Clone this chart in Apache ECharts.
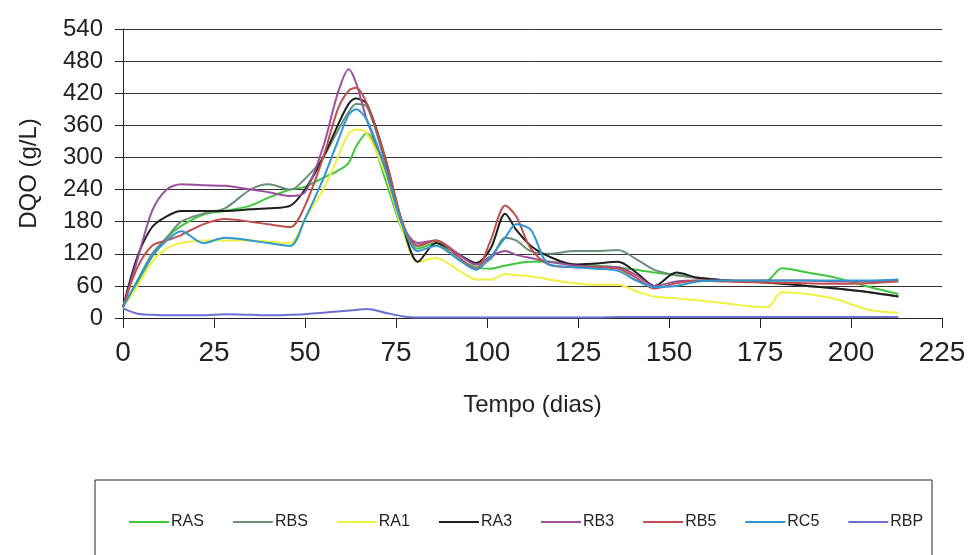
<!DOCTYPE html>
<html>
<head>
<meta charset="utf-8">
<script src="https://cdn.jsdelivr.net/npm/echarts@6/dist/echarts.min.js"></script>
<style>
  html, body { margin: 0; padding: 0; background: #fff; }
  #chart { width: 971px; height: 555px; }
</style>
</head>
<body>
<div id="chart"></div>
<script>
// dias de amostragem
const days = [0, 4, 8, 12, 16, 22, 28, 35, 40, 46, 50, 55, 59, 62, 64, 67, 72, 77, 81, 86, 92, 97, 101, 105, 108, 112, 117, 124, 130, 136, 141, 146, 152, 158, 166, 172, 177, 181, 188, 196, 205, 213];

// DQO (g/L) por reator
const ras = [20, 65, 115, 150, 172, 193, 200, 210, 225, 240, 245, 262, 275, 290, 320, 345, 260, 160, 130, 140, 110, 95, 92, 98, 102, 105, 105, 100, 98, 95, 90, 85, 80, 75, 70, 68, 70, 93, 85, 75, 58, 45];
const rbs = [20, 70, 120, 150, 180, 195, 205, 240, 250, 240, 260, 300, 350, 385, 400, 395, 290, 170, 135, 145, 120, 100, 110, 150, 145, 125, 120, 125, 125, 127, 110, 90, 80, 75, 70, 68, 67, 65, 60, 55, 48, 40];
const ra1 = [20, 60, 105, 130, 140, 145, 145, 145, 143, 140, 185, 240, 300, 345, 352, 345, 270, 160, 105, 112, 90, 72, 72, 82, 80, 78, 72, 65, 62, 62, 50, 40, 37, 33, 27, 22, 20, 48, 45, 35, 15, 10];
const ra3 = [20, 115, 170, 190, 200, 200, 200, 203, 205, 210, 240, 300, 360, 400, 410, 400, 300, 170, 105, 140, 120, 103, 130, 195, 165, 135, 115, 100, 102, 105, 85, 60, 85, 75, 70, 68, 66, 64, 60, 55, 48, 40];
const rb3 = [20, 110, 200, 240, 250, 248, 247, 240, 235, 228, 235, 320, 420, 465, 440, 370, 280, 170, 140, 145, 120, 100, 115, 125, 118, 112, 105, 98, 96, 95, 80, 60, 68, 70, 70, 70, 70, 70, 70, 68, 68, 70];
const rb5 = [20, 95, 135, 145, 155, 175, 185, 180, 175, 170, 210, 300, 390, 425, 430, 400, 300, 175, 135, 145, 115, 92, 145, 210, 190, 130, 100, 95, 95, 92, 75, 55, 65, 70, 68, 67, 66, 66, 65, 64, 65, 68];
const rc5 = [20, 70, 115, 145, 162, 140, 150, 145, 140, 135, 185, 260, 330, 380, 390, 370, 280, 170, 125, 135, 110, 90, 115, 150, 175, 165, 100, 95, 92, 88, 70, 58, 60, 68, 70, 70, 70, 70, 70, 70, 70, 72];
const rbp = [18, 8, 6, 5, 5, 5, 7, 6, 5, 6, 7, 10, 12, 14, 15, 17, 10, 3, 1, 1, 1, 1, 1, 1, 1, 1, 1, 1, 1, 2, 2, 2, 2, 2, 2, 2, 2, 2, 2, 2, 2, 2];

const names = ['RAS', 'RBS', 'RA1', 'RA3', 'RB3', 'RB5', 'RC5', 'RBP'];
const values = [ras, rbs, ra1, ra3, rb3, rb5, rc5, rbp];
const colors = ['#3ec83e', '#6b8f78', '#f0f040', '#1e1e1e', '#9b4f9f', '#c0504d', '#2e97d0', '#6d6fd0'];

const font = '"Liberation Sans", Arial, sans-serif';

const chart = echarts.init(document.getElementById('chart'));

const option = {
    animation: false,
    backgroundColor: '#fff',
    color: colors,
    grid: { left: 123, right: 29, top: 29, bottom: 237 },
    legend: {
        data: names.map(n => ({ name: n, icon: 'rect' })),
        left: 124,
        top: 509,
        itemWidth: 40,
        itemHeight: 2,
        itemGap: 29,
        textStyle: { fontFamily: font, fontSize: 16, color: '#222', padding: [0, 0, 0, -3] }
    },
    graphic: [{
        type: 'rect',
        shape: { x: 95, y: 480, width: 837, height: 100 },
        style: { fill: 'none', stroke: '#222', lineWidth: 1 },
        silent: true
    }],
    xAxis: {
        type: 'value',
        min: 0,
        max: 225,
        interval: 25,
        name: 'Tempo (dias)',
        nameLocation: 'middle',
        nameGap: 75,
        nameTextStyle: { fontFamily: font, fontSize: 24, color: '#222' },
        axisLine: { lineStyle: { color: '#222', width: 1 } },
        axisTick: { show: true, length: 10, lineStyle: { color: '#222' } },
        axisLabel: { fontFamily: font, fontSize: 28, color: '#222', margin: 21 },
        splitLine: { show: false }
    },
    yAxis: {
        type: 'value',
        min: 0,
        max: 540,
        interval: 60,
        name: 'DQO (g/L)',
        nameLocation: 'middle',
        nameGap: 82,
        nameTextStyle: { fontFamily: font, fontSize: 24, color: '#222' },
        axisLine: { show: true, lineStyle: { color: '#222', width: 1 } },
        axisTick: { show: true, length: 8, lineStyle: { color: '#222' } },
        axisLabel: { fontFamily: font, fontSize: 24, color: '#222', margin: 20 },
        splitLine: { show: true, lineStyle: { color: '#333', width: 1 } }
    },
    series: names.map((n, i) => ({
        name: n,
        type: 'line',
        smooth: 0.3,
        showSymbol: false,
        lineStyle: { width: 2, color: colors[i] },
        data: days.map((d, j) => [d, values[i][j]])
    }))
};

chart.setOption(option);
</script>
</body>
</html>
